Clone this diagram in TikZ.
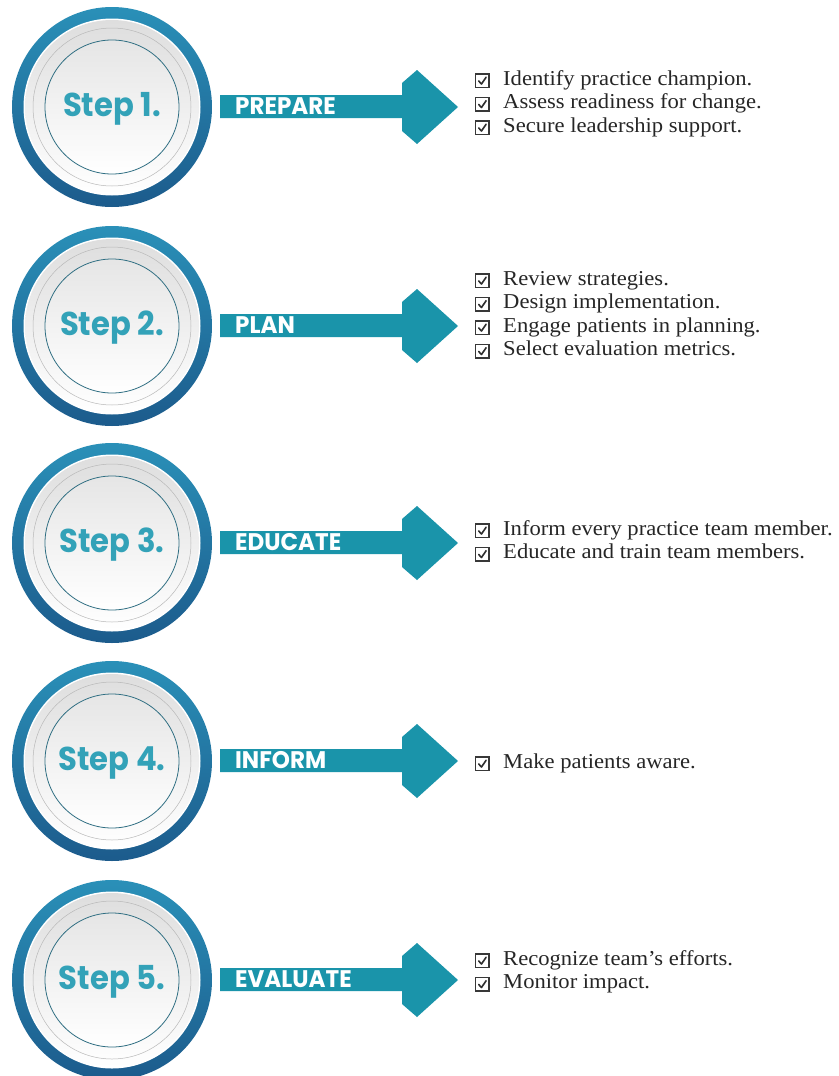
\documentclass[tikz,border=0pt]{standalone}
\usepackage{fontspec}
\setmainfont{Liberation Serif}
\newfontfamily\stepfont{Poppins}
\definecolor{ringtop}{HTML}{2A90B8}
\definecolor{ringbot}{HTML}{1C5B8C}
\definecolor{arrowc}{HTML}{1A94AA}
\definecolor{steptext}{HTML}{33A2B8}
\definecolor{innerline}{HTML}{2F6E82}
\definecolor{listtext}{HTML}{262626}
\tikzset{
  steplabel/.style={font=\stepfont\bfseries\fontsize{33}{33}\selectfont, text=steptext, inner sep=0pt},
  arrowlabel/.style={font=\stepfont\bfseries\fontsize{24}{24}\selectfont, text=white, inner sep=0pt, anchor=west},
  listitem/.style={font=\fontsize{21.2}{23.5}\selectfont, text=listtext, inner sep=0pt, anchor=base west},
  cbx/.pic={
    \draw[line width=1.3pt, black!78] (0,0) rectangle (13.5,13.5);
    \draw[line width=1.6pt, black!82, line cap=round, line join=round] (3.2,7) -- (6,10) -- (10.6,3.2);
  },
}
\newcommand\drawstep[4]{%
  \coordinate (#1) at (112,#2);
  \shade[top color=ringtop, bottom color=ringbot] (#1) circle (100);
  \fill[white] (#1) circle (88.5);
  \shade[top color=black!13, bottom color=white] (#1) circle (87);
  \draw[black!28, line width=0.5pt] (#1) circle (79);
  \shade[top color=black!10, bottom color=white] (#1) circle (67);
  \draw[innerline, line width=0.8pt] (#1) circle (67);
  \node[steplabel] (#1t) at ([yshift=-2]#1) {\scalebox{0.93}[1]{#3}};
  \begin{scope}[shift={(#1)}]
    \fill[arrowc] (108,-12) -- (290,-12) -- (290,-24) -- (305,-37) -- (346,0) coordinate (#1tip)
      -- (305,37) -- (290,24) -- (290,11) -- (108,11) -- cycle;
  \end{scope}
  \node[arrowlabel] (#1l) at ([xshift=123,yshift=1]#1) {\scalebox{0.96}[1]{#4}};
}
% list line: name, baseline y, text
\newcommand\listline[3]{%
  \pic at (475.5,#2-11) {cbx};
  \node[listitem] (#1) at (503,#2) {\scalebox{1.066}[1]{#3}};
}
\begin{document}
\begin{tikzpicture}[x=1pt,y=-1pt]
\useasboundingbox (0,0) rectangle (838,1076);
\fill[white] (0,0) rectangle (838,1076);

\drawstep{s1}{107}{Step 1.}{PREPARE}
\drawstep{s2}{326}{Step 2.}{PLAN}
\drawstep{s3}{543}{Step 3.}{EDUCATE}
\drawstep{s4}{761}{Step 4.}{INFORM}
\drawstep{s5}{980}{Step 5.}{EVALUATE}

\listline{a1}{85}{Identify practice champion.}
\listline{a2}{108.5}{Assess readiness for change.}
\listline{a3}{132}{Secure leadership support.}

\listline{b1}{285}{Review strategies.}
\listline{b2}{308.5}{Design implementation.}
\listline{b3}{332}{Engage patients in planning.}
\listline{b4}{355.5}{Select evaluation metrics.}

\listline{c1}{535}{Inform every practice team member.}
\listline{c2}{558.5}{Educate and train team members.}

\listline{d1}{768}{Make patients aware.}

\listline{e1}{965}{Recognize team’s efforts.}
\listline{e2}{988.5}{Monitor impact.}
\end{tikzpicture}
\end{document}
